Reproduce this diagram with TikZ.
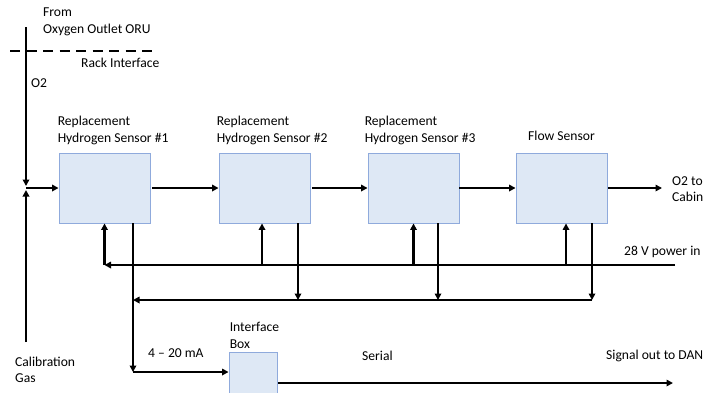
\documentclass[tikz,border=0pt]{standalone}
\usepackage{fontspec}
\setmainfont{Carlito}
\usetikzlibrary{arrows.meta,positioning}
\definecolor{boxfill}{HTML}{DEE8F5}
\definecolor{boxline}{HTML}{8FAADC}
\tikzset{
  sensor/.style={draw=boxline,fill=boxfill,line width=0.9pt,minimum width=91pt,minimum height=70pt,inner sep=0pt},
  wire/.style={line width=2.1pt,-{Triangle[length=6.5pt,width=6.5pt]}},
  lbl/.style={font=\fontsize{13.6}{16.5}\selectfont,inner sep=0pt,align=left},
}
\begin{document}
\begin{tikzpicture}[x=1pt,y=-1pt]
      \useasboundingbox (0,0) rectangle (706,392);
      \clip (0,0) rectangle (706,392);
      % boxes
      \node[sensor] (hs1) at (104.5,188) {};
      \node[sensor] (hs2) at (264.5,188) {};
      \node[sensor] (hs3) at (413.5,188) {};
      \node[sensor] (flow) at (561.5,188) {};
      \node[sensor,minimum width=48pt,minimum height=48pt] (iface) at (253,376) {};
      % box labels
      \node[lbl,above right=8pt and -1pt of hs1.north west] (hs1lbl) {Replacement\\Hydrogen Sensor \#1};
      \node[lbl,above right=8pt and -2pt of hs2.north west] (hs2lbl) {Replacement\\Hydrogen Sensor \#2};
      \node[lbl,above right=8pt and -3pt of hs3.north west] (hs3lbl) {Replacement\\Hydrogen Sensor \#3};
      \node[lbl,above=12pt of flow.north] (flowlbl) {Flow Sensor};
      \node[lbl,above right=3pt and 1pt of iface.north west] (ifacelbl) {Interface\\Box};
      % other texts
      \node[lbl,anchor=west] (from) at (43,22) {From\\Oxygen Outlet ORU};
      \node[lbl,anchor=west] (rack) at (81,63) {Rack Interface};
      \node[lbl,anchor=west] (o2) at (31,83) {O2};
      \node[lbl,anchor=west] (cabin) at (672,189) {O2 to\\Cabin};
      \node[lbl,anchor=west] (pwr) at (624,252) {28 V power in};
      \node[lbl,anchor=west] (ma) at (148,353) {4 – 20 mA};
      \node[lbl,anchor=west] (serial) at (362,356) {Serial};
      \node[lbl,anchor=west] (dan) at (606,356) {Signal out to DAN};
      \node[lbl,anchor=west] (cal) at (15,370) {Calibration\\Gas};
      % free ends
      \coordinate (o2top) at (26,27);
      \coordinate (o2in) at (26,188);
      \coordinate (calgas) at (26,342);
      \coordinate (rackl) at (10,51);
      \coordinate (rackr) at (157,51);
      \coordinate (cabinout) at (662,188);
      \coordinate (pwrin) at (675,265);
      \coordinate (sigin) at (592,300);
      \coordinate (sigout) at (133,300);
      \coordinate (macorner) at (133,372);
      \coordinate (danout) at (673,383);
      % rack interface
      \draw[line width=2.1pt,dash pattern=on 10pt off 6.5pt] (rackl) -- (rackr);
      % gas flow
      \draw[wire] (o2top) -- ([yshift=2pt]o2in);
      \draw[wire] (calgas) -- ([yshift=-2pt]o2in);
      \draw[wire] (o2in) -- (hs1.west);
      \draw[wire,shorten <=2pt] (hs1.east) -- (hs2.west);
      \draw[wire,shorten <=2pt] (hs2.east) -- (hs3.west);
      \draw[wire] (hs3.east) -- (flow.west);
      \draw[wire,shorten <=1pt] (flow.east) -- (cabinout);
      % power
      \draw[wire] (pwrin) -- (hs1.south |- pwrin);
      \draw[wire] (hs1.south |- pwrin) -- (hs1.south);
      \draw[wire] ([xshift=-2.5pt]hs2.south |- pwrin) -- ([xshift=-2.5pt]hs2.south);
      \draw[wire] (hs3.south |- pwrin) -- (hs3.south);
      \draw[wire] ([xshift=4.5pt]flow.south |- pwrin) -- ([xshift=4.5pt]flow.south);
      % signals
      \draw[wire] ([xshift=33.5pt]hs2.south) -- ([xshift=33.5pt]hs2.south |- sigin);
      \draw[wire] ([xshift=24.5pt]hs3.south) -- ([xshift=24.5pt]hs3.south |- sigin);
      \draw[wire] (flow.south -| sigin) -- (sigin);
      \draw[wire] (sigin) -- (sigout);
      \draw[wire] (hs1.south -| sigout) -- (macorner);
      \draw[wire] (macorner) -- (macorner -| iface.west);
      \draw[wire,shorten <=1pt] ([yshift=-7pt]iface.east) -- ([yshift=-7pt]iface.east -| danout);
   \end{tikzpicture}
\end{document}
